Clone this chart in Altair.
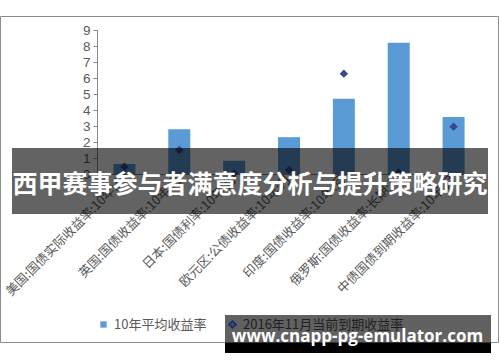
import altair as alt
import pandas as pd

categories = ["美国:国债实际收益率:10年:月", "英国:国债收益率:10年:月", "日本:国债利率:10年:月",
              "欧元区:公债收益率:10年:月", "印度:国债收益率:10年:月", "俄罗斯:国债收益率:长期:月",
              "中债国债到期收益率:10年:月"]
avg_yield = [0.63, 2.8, 0.83, 2.3, 4.7, 8.2, 3.56]
cur_yield = [0.45, 1.5, 0.05, 0.25, 6.27, 0.1, 2.96]
series_names = ["10年平均收益率", "2016年11月当前到期收益率"]
y_ticks = [0, 1, 2, 3, 4, 5, 6, 7, 8, 9]
banner_text = "西甲赛事参与者满意度分析与提升策略研究"
watermark_text = "www.cnapp-pg-emulator.com"

df = pd.DataFrame({
    "cat": categories,
    "avg": avg_yield,
    "cur": cur_yield,
    "s1": [series_names[0]] * len(categories),
    "s2": [series_names[1]] * len(categories),
})
one = pd.DataFrame({"k": [0]})

FONT = "Liberation Sans"
GREY = "#595959"

x_axis = alt.Axis(labelAngle=-45, labelAlign="right", labelBaseline="middle",
                  labelFont="Noto Sans CJK SC", labelFontSize=12.7, labelColor=GREY,
                  labelLimit=0, labelPadding=3, ticks=False,
                  domainColor="#868686", labelOverlap=False)
y_axis = alt.Axis(values=y_ticks, tickCount=10, grid=False, labelFont=FONT, labelFontSize=13.5,
                  labelColor=GREY, domainColor="#868686", tickColor="#868686",
                  tickSize=4, labelPadding=3, labelOverlap=False)
y_scale = alt.Scale(domain=[0, 9], nice=False)
x_scale = alt.Scale(paddingInner=0.0, paddingOuter=0.0)

bars = alt.Chart(df).mark_bar(size=22, color="#5B9BD5").encode(
    x=alt.X("cat:N", sort=categories, title=None, scale=x_scale, axis=x_axis),
    y=alt.Y("avg:Q", title=None, scale=y_scale, axis=y_axis),
    color=alt.Color("s1:N", scale=alt.Scale(domain=[series_names[0]], range=["#5B9BD5"]),
                    legend=alt.Legend(title=None, orient="none", legendX=0, legendY=288,
                                      symbolType="square", symbolSize=40, labelFontSize=13,
                                      labelFont="Noto Sans CJK SC", labelColor=GREY)),
)

points = alt.Chart(df).mark_point(shape="diamond", filled=True, size=70, opacity=1).encode(
    x=alt.X("cat:N", sort=categories, title=None, scale=x_scale, axis=x_axis),
    y=alt.Y("cur:Q", title=None, scale=y_scale, axis=y_axis),
    color=alt.Color("s2:N", scale=alt.Scale(domain=[series_names[1]], range=["#34498F"]),
                    legend=alt.Legend(title=None, orient="none", legendX=129, legendY=288,
                                      symbolType="diamond", symbolSize=50, labelFontSize=13,
                                      labelLimit=0,
                                      symbolFillColor="#1e2a50", symbolStrokeColor="#1e2a50",
                                      labelFont="Noto Sans CJK SC", labelColor="#202020")),
)

frame = alt.Chart(one).mark_rect(fill=None, stroke="#8c8c8c", strokeWidth=1).encode(
    x=alt.value(-96.5), x2=alt.value(401.5), y=alt.value(-13.5), y2=alt.value(312.5))

banner = alt.Chart(one).mark_rect(color="black", opacity=0.61).encode(
    x=alt.value(-85), x2=alt.value(391), y=alt.value(118), y2=alt.value(184))
banner_t = alt.Chart(one).mark_text(text=banner_text, color="white", fontSize=25,
                                    fontWeight="bold", font="Noto Sans CJK SC",
                                    align="center", baseline="middle").encode(
    x=alt.value(153), y=alt.value(155))

wm_box = alt.Chart(one).mark_rect(color="black", opacity=0.62).encode(
    x=alt.value(128), x2=alt.value(394), y=alt.value(285), y2=alt.value(313))
wm_band = alt.Chart(one).mark_rect(color="black").encode(
    x=alt.value(128), x2=alt.value(394), y=alt.value(313), y2=alt.value(323))
wm_t = alt.Chart(one).mark_text(text=watermark_text, color="white", fontSize=17,
                                fontWeight="bold", font="Open Sans",
                                align="center", baseline="middle").encode(
    x=alt.value(260.5), y=alt.value(307))

chart = alt.layer(bars, points, frame, banner, banner_t, wm_box, wm_band, wm_t).resolve_scale(
    color="independent"
).properties(
    width=384, height=144,
    autosize=alt.AutoSizeParams(type="none"),
    padding={"left": 97, "top": 30, "right": 19, "bottom": 188},
    background="white",
).configure_view(stroke=None)

chart.save("out.html", embed_options={"renderer": "svg", "actions": False})
